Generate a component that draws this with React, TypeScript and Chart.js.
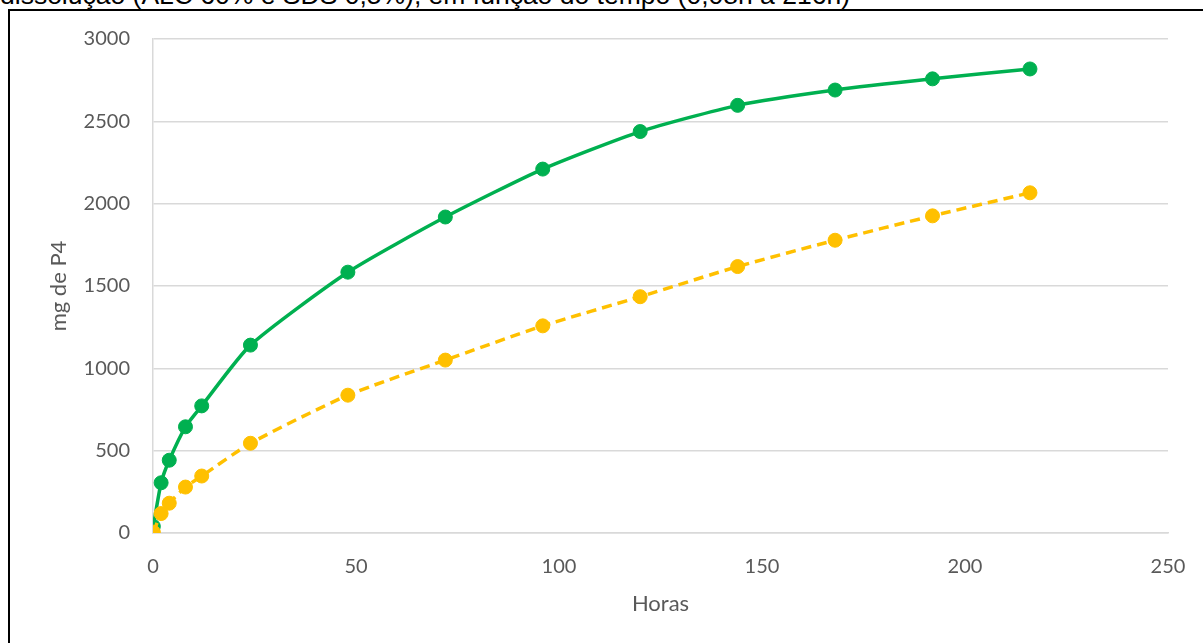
import React, { useEffect, useRef } from "react";
import { Chart, registerables } from "chart.js";

Chart.register(...registerables);

// Tempo de coleta (h)
const horas = [0.08, 2, 4, 8, 12, 24, 48, 72, 96, 120, 144, 168, 192, 216];
// Quantidade liberada de P4 (mg)
const serieVerde = [40, 305, 442, 645, 772, 1141, 1584, 1919, 2210, 2438, 2597, 2690, 2758, 2818];
const serieAmarela = [5, 118, 181, 279, 346, 545, 837, 1050, 1258, 1435, 1618, 1778, 1926, 2066];

const eixoYTicks = [0, 500, 1000, 1500, 2000, 2500, 3000];
const eixoXTicks = [0, 50, 100, 150, 200, 250];

const titulo = "dissolução (ALC 60% e SDS 0,5%), em função do tempo (0,08h a 216h)";

const W = 1203;
const H = 643;

export default function App() {
  const canvasRef = useRef<HTMLCanvasElement | null>(null);

  useEffect(() => {
    const canvas = canvasRef.current;
    if (!canvas) return;
    const labelColor = "#595959";
    const gridColor = "#d9d9d9";
    const font = "Lato";

    const toPoints = (ys: number[]) => horas.map((x, i) => ({ x, y: ys[i] }));
    const plain = (v: any) => String(v);

    const chart = new Chart(canvas, {
      type: "line",
      data: {
        datasets: [
          {
            label: "amarela",
            data: toPoints(serieAmarela),
            borderColor: "#FFC000",
            backgroundColor: "#FFC000",
            borderWidth: 3.5,
            borderDash: [10, 6],
            pointRadius: 7,
            pointBorderWidth: 1,
            pointBorderColor: "#FFC000",
            pointBackgroundColor: "#FFC000",
            tension: 0.2,
          },
          {
            label: "verde",
            data: toPoints(serieVerde),
            borderColor: "#00B050",
            backgroundColor: "#00B050",
            borderWidth: 3.5,
            pointRadius: 7,
            pointBorderWidth: 1,
            pointBorderColor: "#00B050",
            pointBackgroundColor: "#00B050",
            tension: 0.2,
          },
        ],
      },
      options: {
        animation: false,
        responsive: false,
        layout: { padding: { left: 0, top: 39, right: W - 1168, bottom: 0 } },
        plugins: {
          legend: { display: false },
          tooltip: { enabled: false },
        },
        scales: {
          x: {
            type: "linear",
            min: 0,
            max: 250,
            afterFit: (scale: any) => {
              scale.height = H - 533;
              scale.paddingLeft = 0;
              scale.paddingRight = 0;
            },
            afterBuildTicks: (scale: any) => {
              scale.ticks = eixoXTicks.map((v) => ({ value: v }));
            },
            grid: { display: false, drawTicks: false },
            border: { display: true, color: gridColor, width: 1.5 },
            ticks: {
              padding: 22,
              color: labelColor,
              font: { family: font, size: 20 },
              callback: plain,
            },
            title: {
              display: true,
              text: "Horas",
              color: labelColor,
              font: { family: font, size: 22 },
              padding: { top: 0, bottom: 26 },
            },
          },
          y: {
            type: "linear",
            min: 0,
            max: 3000,
            afterFit: (scale: any) => {
              scale.width = 153;
              scale.paddingTop = 0;
              scale.paddingBottom = 0;
            },
            afterBuildTicks: (scale: any) => {
              scale.ticks = eixoYTicks.map((v) => ({ value: v }));
            },
            grid: { color: gridColor, lineWidth: 1.5, drawTicks: false },
            border: { display: true, color: gridColor, width: 1.5 },
            ticks: {
              padding: 23,
              color: labelColor,
              font: { family: font, size: 20 },
              callback: plain,
            },
            title: {
              display: true,
              text: "mg de P4",
              color: labelColor,
              font: { family: font, size: 22 },
              padding: { top: 46, bottom: 0 },
            },
          },
        },
      },
    });
    return () => chart.destroy();
  }, []);

  return (
    <div
      style={{
        position: "absolute",
        left: 0,
        top: 0,
        width: W,
        height: H,
        overflow: "hidden",
        background: "#ffffff",
      }}
    >
      <div
        style={{
          position: "absolute",
          left: 0,
          top: -18,
          fontFamily: "'Liberation Sans', Arial, sans-serif",
          fontSize: 26.5,
          lineHeight: "26.5px",
          color: "#000",
          whiteSpace: "nowrap",
        }}
      >
        {titulo}
      </div>
      <div
        style={{
          position: "absolute",
          left: 8,
          top: 9,
          width: 1400,
          height: 900,
          border: "2px solid #000",
          boxSizing: "border-box",
        }}
      />
      <canvas
        ref={canvasRef}
        width={W}
        height={H}
        style={{ position: "absolute", left: 0, top: 0, width: W, height: H }}
      />
    </div>
  );
}
